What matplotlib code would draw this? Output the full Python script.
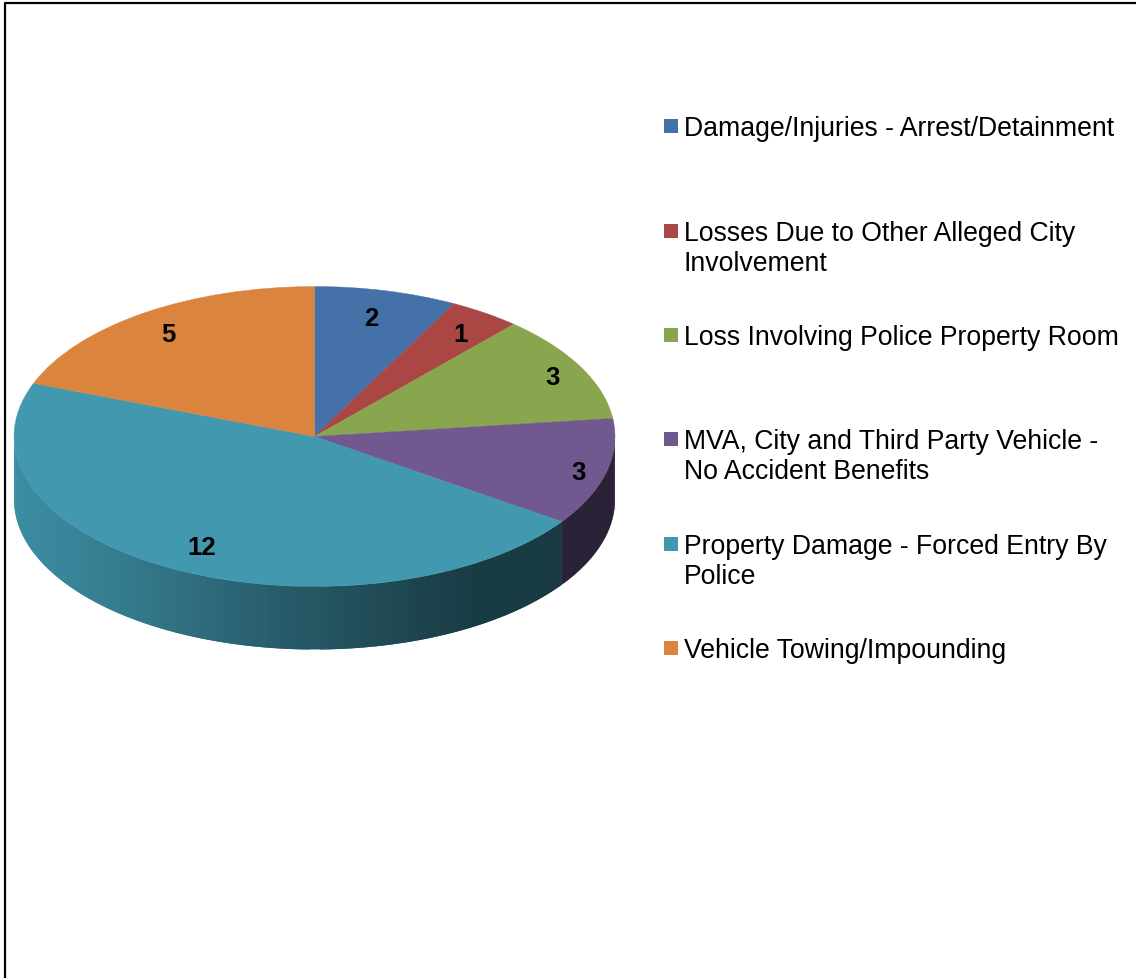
import numpy as np
import matplotlib
matplotlib.use("Agg")
import matplotlib.pyplot as plt
from matplotlib.patches import Wedge, Polygon, Rectangle
from matplotlib.colors import to_rgb

categories = ["Damage/Injuries - Arrest/Detainment",
              "Losses Due to Other Alleged City\nInvolvement",
              "Loss Involving Police Property Room",
              "MVA, City and Third Party Vehicle -\nNo Accident Benefits",
              "Property Damage - Forced Entry By\nPolice",
              "Vehicle Towing/Impounding"]
values = [2, 1, 3, 3, 12, 5]
colors = ["#4472A8", "#AA4644", "#89A54E", "#71588F", "#4198AF", "#DB843D"]
W, H = 1136, 979
fig = plt.figure(figsize=(W/100, H/100), dpi=100)
fig.patch.set_facecolor("white")
bg = fig.add_axes([0, 0, 1, 1], zorder=0)
bg.set_xlim(0, W); bg.set_ylim(H, 0); bg.axis("off")
bg.plot([4.5, 4.5, W], [H, 3.5, 3.5], color="black", lw=1.6)

# pie axes: unit circle mapped on an ellipse
cx, cy, rx, ry, depth = 314.5, 437.5, 300.5, 150, 63
pie = fig.add_axes([(cx-rx)/W, 1-(cy+ry)/H, 2*rx/W, 2*ry/H], zorder=1)
pie.set_xlim(-1, 1); pie.set_ylim(-1, 1); pie.axis("off")
d = depth/ry
total = sum(values)
edges = 90 - np.cumsum([0]+values)/total*360

def shade(c, t):
    c = np.array(to_rgb(c))
    return tuple(np.clip(c*t, 0, 1))

def side_factor(x):
    # x in -1 (left) ... 1 (right) across the pie
    return np.interp(x, [-1, -0.75, -0.45, -0.1, 0.2, 0.52, 1],
                        [0.93, 0.85, 0.74, 0.60, 0.50, 0.39, 0.38])

for i, v in enumerate(values):
    a0, a1 = edges[i+1], edges[i]          # a0 < a1, degrees
    for t0 in np.arange(-180.0, 0.0, 1.0):
        for shift in (0, 360):
            q0, q1 = max(t0, a0-shift), min(t0+1, a1-shift)
            if q1 <= q0:
                continue
            q2 = min(t0+2, a1-shift, 0.0)   # overlap the next strip so no seams show
            x = np.cos(np.radians([q0, q2])); y = np.sin(np.radians([q0, q2]))
            mid = np.cos(np.radians((q0+q1)/2))
            pie.add_patch(Polygon([(x[0], y[0]), (x[1], y[1]), (x[1], y[1]-d), (x[0], y[0]-d)],
                                  fc=shade(colors[i], side_factor(mid)), ec="none", clip_on=False))
for i, v in enumerate(values):
    pie.add_patch(Wedge((0, 0), 1, edges[i+1], edges[i], fc=colors[i], ec=colors[i], lw=0.3, clip_on=False))

top = fig.add_axes([0, 0, 1, 1], zorder=2)
top.set_xlim(0, W); top.set_ylim(H, 0); top.axis("off")
label_pos = [(371, 319), (461, 335), (553, 378), (579, 473), (202, 548), (168, 335)]
for v, (x, y) in zip(values, label_pos):
    top.text(x, y, str(v), ha="center", va="center", fontsize=18.5, fontweight="bold",
             family="Liberation Sans", color="black")

legend_y = [127, 232, 336, 440, 545, 649]
for name, col, y in zip(categories, colors, legend_y):
    top.add_patch(Rectangle((664, y-7), 14, 14, fc=col, ec="none"))
    top.text(684, y-11, name, ha="left", va="top", fontsize=19.2, family="Liberation Sans",
             color="black", linespacing=1.2)
fig.savefig("out.png", dpi=100)
